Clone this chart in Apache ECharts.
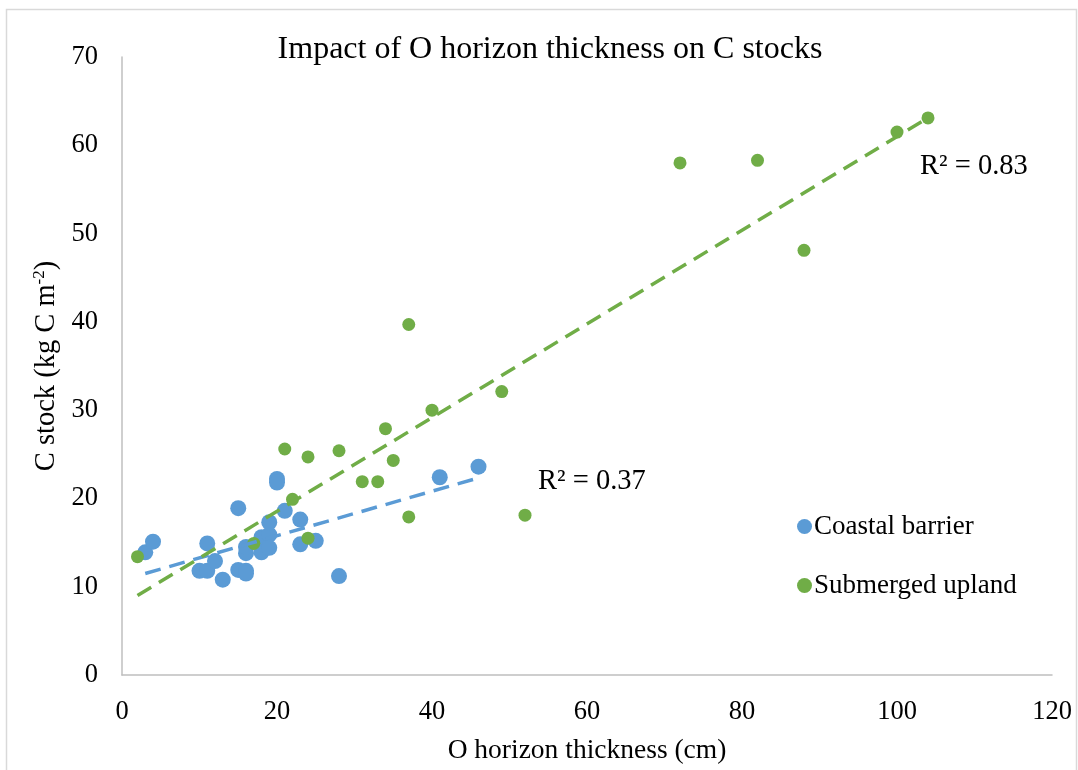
<!DOCTYPE html>
<html>
<head>
<meta charset="utf-8">
<script src="https://cdn.jsdelivr.net/npm/echarts@6/dist/echarts.min.js"></script>
<style>
  html, body { margin: 0; padding: 0; background: #fff; }
  #chart { width: 1078px; height: 770px; }
</style>
</head>
<body>
<div id="chart"></div>
<script>
// ---- Data ----
const coastalX = [3, 4, 11, 10, 11, 12, 13, 15, 15, 16, 16, 16, 16, 18, 18, 19, 19, 19, 20, 20, 21, 23, 23, 25, 28, 41, 46];
const coastalY = [13.9, 15.1, 14.9, 11.8, 11.8, 12.9, 10.8, 18.9, 11.9, 11.8, 11.5, 13.8, 14.5, 13.9, 15.6, 15.9, 17.3, 14.4, 22.2, 21.8, 18.6, 17.6, 14.8, 15.2, 11.2, 22.4, 23.6];

const uplandX = [2, 17, 21, 22, 24, 24, 28, 31, 33, 34, 35, 37, 37, 40, 49, 52, 72, 82, 88, 100, 104];
const uplandY = [13.4, 14.9, 25.6, 19.9, 24.7, 15.5, 25.4, 21.9, 21.9, 27.9, 24.3, 39.7, 17.9, 30.0, 32.1, 18.1, 58.0, 58.3, 48.1, 61.5, 63.1];

// trend line endpoints (as drawn in the reference)
const coastalTrendX = [3, 46.3];
const coastalTrendY = [11.5, 22.4];
const uplandTrendX = [2, 104];
const uplandTrendY = [9.0, 63.1];

const xTicks = [0, 20, 40, 60, 80, 100, 120];
const yTicks = [0, 10, 20, 30, 40, 50, 60, 70];

const seriesNames = ['Coastal barrier', 'Submerged upland'];
const r2Labels = ['R² = 0.37', 'R² = 0.83'];
const titleText = 'Impact of O horizon thickness on C stocks';
const xTitle = 'O horizon thickness (cm)';

const pairs = (xs, ys) => xs.map((x, i) => [x, ys[i]]);

const FONT = '"Liberation Serif", "Times New Roman", serif';
const BLUE = '#5B9BD5';
const GREEN = '#70AD47';

const chart = echarts.init(document.getElementById('chart'));
chart.setOption({
  animation: false,
  backgroundColor: '#fff',
  textStyle: { fontFamily: FONT },
  title: {
    text: titleText,
    left: 545, top: 29, textAlign: 'center',
    textStyle: { fontFamily: FONT, fontSize: 32, fontWeight: 'normal', color: '#000' }
  },
  grid: { left: 122, right: 26, top: 57, bottom: 92 },
  xAxis: {
    type: 'value', min: xTicks[0], max: xTicks[xTicks.length - 1], interval: 20,
    name: xTitle, nameLocation: 'middle', nameGap: 62,
    nameTextStyle: { fontFamily: FONT, fontSize: 27.5, color: '#000' },
    axisLine: { show: true, lineStyle: { color: '#BFBFBF', width: 1.5 } },
    axisTick: { show: false },
    splitLine: { show: false },
    axisLabel: { fontFamily: FONT, fontSize: 26.5, color: '#000', margin: 24 }
  },
  yAxis: {
    type: 'value', min: yTicks[0], max: yTicks[yTicks.length - 1], interval: 10,
    name: 'C stock (kg C m{sup|-2})', nameLocation: 'middle', nameGap: 60,
    nameTextStyle: {
      fontFamily: FONT, fontSize: 28.5, color: '#000',
      rich: { sup: { fontFamily: FONT, fontSize: 17, color: '#000', verticalAlign: 'top', padding: [0, 0, 13, 0] } }
    },
    axisLine: { show: true, lineStyle: { color: '#BFBFBF', width: 1.5 } },
    axisTick: { show: false },
    splitLine: { show: false },
    axisLabel: { fontFamily: FONT, fontSize: 26.5, color: '#000', margin: 24 }
  },
  legend: {
    data: seriesNames,
    orient: 'vertical',
    left: 792, top: 508,
    itemWidth: 15, itemHeight: 15, itemGap: 32,
    icon: 'circle',
    textStyle: { fontFamily: FONT, fontSize: 27, color: '#000', padding: [0, 0, 0, -3] }
  },
  graphic: [
    { type: 'rect', left: 4, top: 7, shape: { width: 1070, height: 775 }, style: { fill: 'none', stroke: '#D9D9D9', lineWidth: 1.5 }, silent: true },
    { type: 'text', left: 538, top: 467, style: { text: r2Labels[0], font: '28.5px ' + FONT, fill: '#000' } },
    { type: 'text', left: 920, top: 152, style: { text: r2Labels[1], font: '28.5px ' + FONT, fill: '#000' } }
  ],
  series: [
    { name: seriesNames[0], type: 'scatter', data: pairs(coastalX, coastalY), symbolSize: 16, itemStyle: { color: BLUE, opacity: 1 } },
    { name: seriesNames[1], type: 'scatter', data: pairs(uplandX, uplandY), symbolSize: 13, itemStyle: { color: GREEN, opacity: 1 } },
    { name: 'coastalTrend', type: 'line', data: pairs(coastalTrendX, coastalTrendY), showSymbol: false, symbol: 'none',
      lineStyle: { color: BLUE, width: 3.5, type: [16, 9] }, z: 3 },
    { name: 'uplandTrend', type: 'line', data: pairs(uplandTrendX, uplandTrendY), showSymbol: false, symbol: 'none',
      lineStyle: { color: GREEN, width: 3.5, type: [16, 9] }, z: 3 }
  ]
});
</script>
</body>
</html>
